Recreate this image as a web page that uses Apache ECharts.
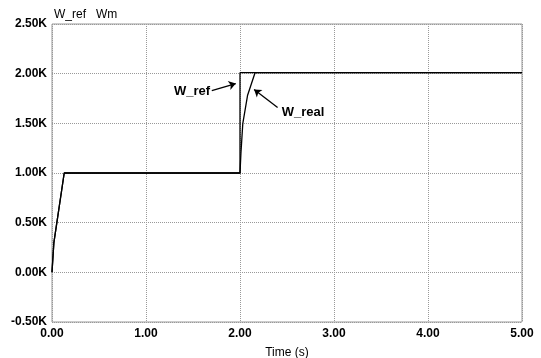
<!DOCTYPE html>
<html><head><meta charset="utf-8">
<script src="https://cdn.jsdelivr.net/npm/echarts@6/dist/echarts.min.js"></script>
<style>html,body{margin:0;padding:0;background:#fff}#c{width:541px;height:358px}</style>
</head><body><div id="c"></div>
<script>
const xTicks = [0, 1, 2, 3, 4, 5];
const yTicks = [-500, 0, 500, 1000, 1500, 2000, 2500];
const wRefT = [0, 0.02, 0.13, 2.0, 2.0, 5.0];
const wRefV = [0, 300, 1000, 1000, 2010, 2010];
const wRealT = [0, 0.02, 0.13, 0.2, 2.0, 2.01, 2.03, 2.08, 2.16, 2.2, 5.0];
const wRealV = [0, 300, 1000, 1000, 1000, 1200, 1500, 1780, 2010, 2010, 2010];
const annRefArrow = [[1.70, 1830], [1.955, 1900]];
const annRealArrow = [[2.40, 1660], [2.15, 1840]];
const annRefText = [1.49, 1825];
const annRealText = [2.67, 1610];

const font = 'Liberation Sans, Arial, sans-serif';
const chart = echarts.init(document.getElementById('c'));
chart.setOption({
  animation: false,
  backgroundColor: '#fff',
  title: { text: 'W_ref   Wm', left: 49, top: 4, textStyle: { fontSize: 12, fontWeight: 'normal', color: '#000', fontFamily: font } },
  grid: { left: 52, right: 19, top: 24, bottom: 36, show: true, borderColor: '#999', borderWidth: 1, containLabel: false, outerBoundsMode: 'none' },
  xAxis: {
    type: 'value', min: 0, max: 5, interval: 1,
    name: 'Time (s)', nameLocation: 'middle', nameGap: 25,
    nameTextStyle: { fontSize: 12, color: '#000', fontFamily: font },
    axisLine: { show: false }, axisTick: { show: false },
    axisLabel: { formatter: v => v.toFixed(2), fontSize: 12, color: '#000', fontWeight: 'bold', fontFamily: font, margin: 6 },
    splitLine: { show: true, lineStyle: { type: 'dotted', color: '#999' } }
  },
  yAxis: {
    type: 'value', min: -500, max: 2500, interval: 500,
    axisLine: { show: false }, axisTick: { show: false },
    axisLabel: { formatter: v => (v / 1000).toFixed(2) + 'K', fontSize: 12, color: '#000', fontWeight: 'bold', fontFamily: font, margin: 5 },
    splitLine: { show: true, lineStyle: { type: 'dotted', color: '#999' } }
  },
  series: [
    { type: 'line', name: 'W_ref', data: wRefT.map((t, i) => [t, wRefV[i]]), showSymbol: false,
      lineStyle: { color: '#000', width: 1.3 } },
    { type: 'line', name: 'W_real', data: wRealT.map((t, i) => [t, wRealV[i]]), showSymbol: false,
      lineStyle: { color: '#000', width: 1.3 },
      markLine: {
        silent: true, symbol: ['none', 'arrow'], symbolSize: 7,
        lineStyle: { color: '#000', width: 1.3, type: 'solid' },
        label: { show: false },
        data: [
          [{ coord: annRefArrow[0] }, { coord: annRefArrow[1] }],
          [{ coord: annRealArrow[0] }, { coord: annRealArrow[1] }]
        ]
      },
      markPoint: {
        silent: true, symbol: 'circle', symbolSize: 0,
        label: { show: true, position: 'inside', fontSize: 13, fontWeight: 'bold', color: '#000', fontFamily: font },
        data: [
          { coord: annRefText, value: 'W_ref', label: { formatter: 'W_ref' } },
          { coord: annRealText, value: 'W_real', label: { formatter: 'W_real' } }
        ]
      } }
  ]
});
</script></body></html>
